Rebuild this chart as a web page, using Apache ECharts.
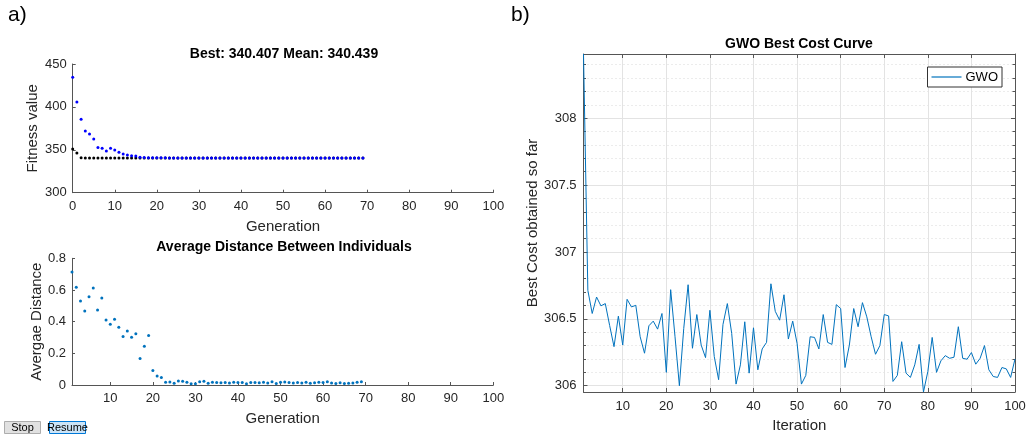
<!DOCTYPE html>
<html><head><meta charset="utf-8">
<script src="https://cdn.jsdelivr.net/npm/echarts@6/dist/echarts.min.js"></script>
<style>html,body{margin:0;padding:0;background:#fff}#c{width:1033px;height:438px}</style>
</head><body><div id="c"></div>
<script>
const FONT = '"Liberation Sans", Arial, Helvetica, sans-serif';

// ---- data (a, top): generation 0..69 ----
const bestFitness = [350.9, 346.2, 340.62, 340.58, 340.55, 340.53, 340.5, 340.48, 340.47, 340.46,
  340.45, 340.44, 340.43, 340.42, 340.42, 340.41, 340.41, 340.41, 340.41, 340.41,
  340.41, 340.41, 340.41, 340.41, 340.41, 340.41, 340.41, 340.41, 340.41, 340.41,
  340.407, 340.407, 340.407, 340.407, 340.407, 340.407, 340.407, 340.407, 340.407, 340.407,
  340.407, 340.407, 340.407, 340.407, 340.407, 340.407, 340.407, 340.407, 340.407, 340.407,
  340.407, 340.407, 340.407, 340.407, 340.407, 340.407, 340.407, 340.407, 340.407, 340.407,
  340.407, 340.407, 340.407, 340.407, 340.407, 340.407, 340.407, 340.407, 340.407, 340.407];
const meanFitness = [434.5, 405.7, 385.5, 371.9, 368.4, 362.6, 352.8, 351.7, 348.6, 351.7,
  349.7, 347.0, 345.1, 343.9, 343.1, 342.7, 341.2, 340.9, 340.8, 340.72,
  340.66, 340.62, 340.6, 340.58, 340.57, 340.55, 340.54, 340.53, 340.52, 340.51,
  340.5, 340.5, 340.49, 340.49, 340.48, 340.48, 340.47, 340.47, 340.47, 340.46,
  340.46, 340.46, 340.46, 340.45, 340.45, 340.45, 340.45, 340.45, 340.45, 340.45,
  340.44, 340.44, 340.44, 340.44, 340.44, 340.44, 340.44, 340.44, 340.44, 340.44,
  340.44, 340.44, 340.44, 340.44, 340.44, 340.44, 340.44, 340.44, 340.44, 340.439];
// ---- data (a, bottom): generation 1..69 ----
const avgDistance = [0.714, 0.617, 0.531, 0.467, 0.558, 0.613, 0.474, 0.549, 0.411, 0.383,
  0.415, 0.364, 0.307, 0.341, 0.301, 0.324, 0.168, 0.244, 0.312, 0.091,
  0.057, 0.048, 0.017, 0.019, 0.011, 0.025, 0.023, 0.017, 0.008, 0.008,
  0.021, 0.023, 0.011, 0.018, 0.016, 0.014, 0.015, 0.013, 0.017, 0.015,
  0.016, 0.008, 0.015, 0.016, 0.014, 0.018, 0.012, 0.020, 0.010, 0.017,
  0.019, 0.015, 0.013, 0.016, 0.012, 0.018, 0.011, 0.014, 0.017, 0.015,
  0.020, 0.012, 0.010, 0.014, 0.009, 0.011, 0.013, 0.018, 0.021];
// ---- data (b): iteration 1..100 ----
const gwoCost = [308.48, 306.713, 306.54, 306.663, 306.597, 306.614, 306.45, 306.292, 306.52, 306.304,
  306.646, 306.589, 306.601, 306.366, 306.243, 306.448, 306.483, 306.423, 306.54, 306.10,
  306.718, 306.366, 306.0, 306.428, 306.755, 306.28, 306.532, 306.304, 306.21, 306.564,
  306.218, 306.045, 306.458, 306.614, 306.391, 306.012, 306.156, 306.478, 306.094, 306.433,
  306.119, 306.275, 306.324, 306.762, 306.556, 306.49, 306.68, 306.349, 306.483, 306.317,
  306.012, 306.077, 306.366, 306.361, 306.275, 306.532, 306.324, 306.309, 306.606, 306.577,
  306.136, 306.304, 306.577, 306.441, 306.621, 306.515, 306.366, 306.235, 306.3, 306.532,
  306.522, 306.032, 306.077, 306.329, 306.094, 306.062, 306.156, 306.309, 305.953, 306.106,
  306.361, 306.10, 306.186, 306.225, 306.205, 306.213, 306.441, 306.205, 306.198, 306.248,
  306.161, 306.205, 306.3, 306.119, 306.069, 306.062, 306.136, 306.126, 306.062, 306.2];

// ---- ticks ----
const xTicksGen1 = [10, 20, 30, 40, 50, 60, 70, 80, 90, 100];
const xTicksIter = [10, 20, 30, 40, 50, 60, 70, 80, 90, 100];
const yTicksGwo = [306, 306.5, 307, 307.5, 308];
const yMinorGwo = [306.1, 306.2, 306.3, 306.4, 306.6, 306.7, 306.8, 306.9, 307.1, 307.2, 307.3, 307.4,
  307.6, 307.7, 307.8, 307.9, 308.1, 308.2, 308.3, 308.4];
const gwoMin = 305.953, gwoMax = 308.48;

const AX = '#555';
const TXT = '#262626';
const lab = (extra) => Object.assign({color: TXT, fontSize: 13, fontFamily: FONT}, extra || {});
const nameStyle = {color: TXT, fontSize: 15, fontFamily: FONT};

const chart = echarts.init(document.getElementById('c'), null, {renderer: 'canvas'});
chart.setOption({
  animation: false,
  backgroundColor: '#fff',
  grid: [
    {left: 72.7, top: 64, width: 420.6, height: 128.7},
    {left: 72, top: 258.3, width: 421.3, height: 126.7},
    {left: 583.5, top: 54, width: 431.5, height: 340}
  ],
  xAxis: [
    {gridIndex: 0, type: 'value', min: 0, max: 100, interval: 10,
     axisLine: {show: true, onZero: false, lineStyle: {color: AX}},
     axisTick: {inside: true, length: 3, lineStyle: {color: AX}},
     axisLabel: lab({margin: 7}), splitLine: {show: false},
     name: 'Generation', nameLocation: 'middle', nameGap: 27, nameTextStyle: nameStyle},
    {gridIndex: 1, type: 'value', min: 1, max: 100,
     axisLine: {show: true, onZero: false, lineStyle: {color: AX}},
     axisTick: {inside: true, length: 3, lineStyle: {color: AX}, customValues: xTicksGen1},
     axisLabel: lab({margin: 7, customValues: xTicksGen1}), splitLine: {show: false},
     name: 'Generation', nameLocation: 'middle', nameGap: 26, nameTextStyle: nameStyle},
    {gridIndex: 2, type: 'value', min: 1, max: 100, position: 'bottom',
     axisLine: {show: true, onZero: false, lineStyle: {color: AX}},
     axisTick: {inside: true, length: 4, lineStyle: {color: AX}, customValues: xTicksIter},
     axisLabel: lab({margin: 8, customValues: xTicksIter}),
     splitLine: {show: true, lineStyle: {color: '#e3e3e3', width: 1}},
     name: 'Iteration', nameLocation: 'middle', nameGap: 26, nameTextStyle: nameStyle},
    {gridIndex: 2, type: 'value', min: 1, max: 100, position: 'top',
     axisLine: {show: true, onZero: false, lineStyle: {color: AX}},
     axisTick: {inside: true, length: 4, lineStyle: {color: AX}, customValues: xTicksIter},
     axisLabel: {show: false}, splitLine: {show: false}}
  ],
  yAxis: [
    {gridIndex: 0, type: 'value', min: 300, max: 450, interval: 50,
     axisLine: {show: true, onZero: false, lineStyle: {color: AX}},
     axisTick: {show: true, inside: true, length: 3, lineStyle: {color: AX}},
     axisLabel: lab({margin: 6}), splitLine: {show: false},
     name: 'Fitness value', nameLocation: 'middle', nameGap: 32, nameTextStyle: nameStyle},
    {gridIndex: 1, type: 'value', min: 0, max: 0.8, interval: 0.2,
     axisLine: {show: true, onZero: false, lineStyle: {color: AX}},
     axisTick: {show: true, inside: true, length: 3, lineStyle: {color: AX}},
     axisLabel: lab({margin: 6}), splitLine: {show: false},
     name: 'Avergae Distance', nameLocation: 'middle', nameGap: 28, nameTextStyle: nameStyle},
    {gridIndex: 2, type: 'value', min: gwoMin, max: gwoMax, position: 'left',
     axisLine: {show: true, onZero: false, lineStyle: {color: AX}},
     axisTick: {show: true, inside: true, length: 4, lineStyle: {color: AX}, customValues: yTicksGwo},
     axisLabel: lab({margin: 7, customValues: yTicksGwo}),
     splitLine: {show: true, lineStyle: {color: '#e3e3e3', width: 1}},
     name: 'Best Cost obtained so far', nameLocation: 'middle', nameGap: 42, nameTextStyle: nameStyle},
    {gridIndex: 2, type: 'value', min: gwoMin, max: gwoMax, position: 'right',
     axisLine: {show: true, onZero: false, lineStyle: {color: AX}},
     axisTick: {show: true, inside: true, length: 4, lineStyle: {color: AX}, customValues: yTicksGwo},
     axisLabel: {show: false}, splitLine: {show: false}},
    {gridIndex: 2, type: 'value', min: gwoMin, max: gwoMax, position: 'left',
     axisLine: {show: false, onZero: false},
     axisTick: {show: true, inside: true, length: 2.5, lineStyle: {color: AX}, customValues: yMinorGwo},
     axisLabel: {show: false},
     splitLine: {show: true, lineStyle: {color: '#d9d9d9', width: 1, type: [1, 3]}}},
    {gridIndex: 2, type: 'value', min: gwoMin, max: gwoMax, position: 'right',
     axisLine: {show: false, onZero: false},
     axisTick: {show: true, inside: true, length: 2.5, lineStyle: {color: AX}, customValues: yMinorGwo},
     axisLabel: {show: false}, splitLine: {show: false}}
  ],
  legend: {
    data: [{name: 'GWO', icon: 'rect'}], right: 31, top: 67, orient: 'vertical',
    backgroundColor: '#fff', borderColor: '#333', borderWidth: 1, padding: [3, 4, 3, 4],
    itemWidth: 30, itemHeight: 1.2, itemGap: 4,
    textStyle: {color: '#000', fontSize: 13, fontFamily: FONT, padding: [0, 0, 0, -1], lineHeight: 14}
  },
  series: [
    {name: 'Best', type: 'scatter', xAxisIndex: 0, yAxisIndex: 0, symbolSize: 3,
     itemStyle: {color: '#000', opacity: 1}, z: 2,
     data: bestFitness.map((v, i) => [i, v])},
    {name: 'Mean', type: 'scatter', xAxisIndex: 0, yAxisIndex: 0, symbolSize: 3,
     itemStyle: {color: '#0000ff', opacity: 1}, z: 3,
     data: meanFitness.map((v, i) => [i, v])},
    {name: 'Distance', type: 'scatter', xAxisIndex: 1, yAxisIndex: 1, symbolSize: 3,
     itemStyle: {color: '#0072BD', opacity: 1},
     data: avgDistance.map((v, i) => [i + 1, v])},
    {name: 'GWO', type: 'line', xAxisIndex: 2, yAxisIndex: 2, symbol: 'none', showSymbol: false,
     clip: true, lineStyle: {color: '#0072BD', width: 1}, itemStyle: {color: '#0072BD'},
     data: gwoCost.map((v, i) => [i + 1, v]), z: 5}
  ],
  graphic: [
    {type: 'text', left: 8, top: 5, style: {text: 'a)', fontSize: 21, fontFamily: FONT, fill: '#000'}},
    {type: 'text', left: 511, top: 5, style: {text: 'b)', fontSize: 21, fontFamily: FONT, fill: '#000'}},
    {type: 'text', style: {text: 'Best: 340.407 Mean: 340.439', x: 284, y: 54, align: 'center', verticalAlign: 'middle',
      fontSize: 14, fontWeight: 'bold', fontFamily: FONT, fill: '#000'}},
    {type: 'text', style: {text: 'Average Distance Between Individuals', x: 284, y: 247.5, align: 'center', verticalAlign: 'middle',
      fontSize: 14, fontWeight: 'bold', fontFamily: FONT, fill: '#000'}},
    {type: 'text', style: {text: 'GWO Best Cost Curve', x: 799, y: 44, align: 'center', verticalAlign: 'middle',
      fontSize: 14, fontWeight: 'bold', fontFamily: FONT, fill: '#000'}},
    {type: 'rect', shape: {x: 4.5, y: 421.5, width: 36, height: 12}, style: {fill: '#e1e1e1', stroke: '#adadad', lineWidth: 1}},
    {type: 'text', style: {text: 'Stop', x: 22.5, y: 428, align: 'center', verticalAlign: 'middle', fontSize: 11, fontFamily: FONT, fill: '#000'}},
    {type: 'rect', shape: {x: 49.5, y: 421.5, width: 36, height: 12}, style: {fill: '#cce4f7', stroke: '#0078d7', lineWidth: 1}},
    {type: 'text', style: {text: 'Resume', x: 67.5, y: 428, align: 'center', verticalAlign: 'middle', fontSize: 11, fontFamily: FONT, fill: '#000'}}
  ]
});
</script></body></html>
